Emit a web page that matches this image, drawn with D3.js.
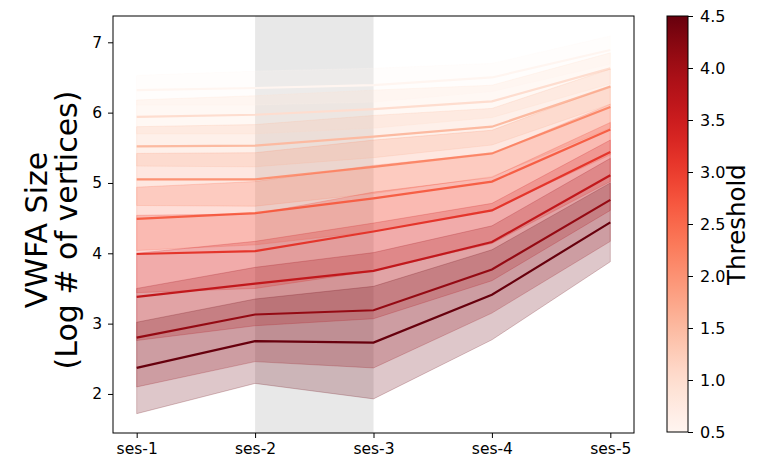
<!DOCTYPE html>
<html><head><meta charset="utf-8">
<script src="https://cdn.jsdelivr.net/npm/d3@7"></script>
<style>
body{margin:0;background:#fff;}
svg{display:block;font-family:"DejaVu Sans",sans-serif;}
</style></head>
<body><svg id="c" width="758" height="462"></svg>
<script>
const sessions = ["ses-1","ses-2","ses-3","ses-4","ses-5"];
const thresholds = [0.5,1.0,1.5,2.0,2.5,3.0,3.5,4.0,4.5];
const means = [
  [6.32,6.35,6.39,6.50,6.89],
  [5.94,5.97,6.05,6.16,6.63],
  [5.52,5.53,5.66,5.80,6.37],
  [5.05,5.05,5.23,5.42,6.08],
  [4.49,4.57,4.78,5.02,5.76],
  [3.99,4.03,4.31,4.61,5.44],
  [3.38,3.57,3.75,4.16,5.11],
  [2.80,3.13,3.19,3.77,4.76],
  [2.37,2.75,2.73,3.41,4.44]
];
const errs = [
  [0.21,0.24,0.24,0.20,0.20],
  [0.24,0.27,0.27,0.23,0.22],
  [0.28,0.30,0.30,0.26,0.25],
  [0.37,0.38,0.38,0.33,0.30],
  [0.45,0.45,0.47,0.40,0.36],
  [0.55,0.53,0.56,0.47,0.42],
  [0.62,0.60,0.68,0.55,0.50],
  [0.70,0.67,0.82,0.62,0.59],
  [0.65,0.60,0.80,0.64,0.56]
];
const yTicks = [2,3,4,5,6,7];
const cbTicks = [0.5,1.0,1.5,2.0,2.5,3.0,3.5,4.0,4.5];
const shadeSessions = ["ses-2","ses-3"];

const svg = d3.select("#c");
const L=113, R=634, T=16, B=433;
const x = d3.scaleLinear().domain([-0.2,4.2]).range([L,R]);
const y = d3.scaleLinear().domain([1.445,7.374]).range([B,T]);
const col = d3.scaleSequential(d3.interpolateReds).domain([0.5,4.5]);

// shaded sessions
svg.append("rect")
  .attr("x", x(sessions.indexOf(shadeSessions[0])))
  .attr("width", x(sessions.indexOf(shadeSessions[1])) - x(sessions.indexOf(shadeSessions[0])))
  .attr("y", T).attr("height", B-T).attr("fill","#e8e8e8");

const area = d3.area().x((d,i)=>x(i)).y0(d=>y(d[0]-d[1])).y1(d=>y(d[0]+d[1]));
const line = d3.line().x((d,i)=>x(i)).y(d=>y(d));

thresholds.forEach((t,k)=>{
  const c = col(t);
  const pts = means[k].map((m,i)=>[m, errs[k][i]]);
  svg.append("path").attr("d", area(pts))
    .attr("fill", c).attr("fill-opacity",0.22)
    .attr("stroke", c).attr("stroke-opacity",0.22).attr("stroke-width",1);
  svg.append("path").attr("d", line(means[k]))
    .attr("fill","none").attr("stroke", c).attr("stroke-width",2.2);
});

// frame
svg.append("rect").attr("x",L).attr("y",T).attr("width",R-L).attr("height",B-T)
  .attr("fill","none").attr("stroke","#000").attr("stroke-width",1);

// axes
const xa = svg.append("g").attr("transform",`translate(0,${B})`)
  .call(d3.axisBottom(x).tickValues(d3.range(sessions.length)).tickFormat(i=>sessions[i]).tickSize(5).tickPadding(5));
const ya = svg.append("g").attr("transform",`translate(${L},0)`)
  .call(d3.axisLeft(y).tickValues(yTicks).tickFormat(d3.format("d")).tickSize(5).tickPadding(6));
[xa,ya].forEach(g=>{
  g.select(".domain").remove();
  g.selectAll("text").attr("font-size",15.5).attr("fill","#000").attr("font-family","DejaVu Sans");
  g.selectAll("line").attr("stroke","#000");
});

// y label
const yl = svg.append("text").attr("transform","translate(47,230) rotate(-90)")
  .attr("text-anchor","middle").attr("font-size",30).attr("fill","#000");
yl.append("tspan").attr("x",0).attr("dy",0).text("VWFA Size");
yl.append("tspan").attr("x",0).attr("dy",30).text("(Log # of vertices)");

// colorbar
const CL=667, CR=688;
const defs = svg.append("defs");
const grad = defs.append("linearGradient").attr("id","cg").attr("x1",0).attr("y1",1).attr("x2",0).attr("y2",0);
d3.range(0,1.0001,0.05).forEach(s=>{
  grad.append("stop").attr("offset",s).attr("stop-color",d3.interpolateReds(s));
});
const cy = d3.scaleLinear().domain([0.5,4.5]).range([B-1,T]);
svg.append("rect").attr("x",CL).attr("y",T).attr("width",CR-CL).attr("height",B-1-T)
  .attr("fill","url(#cg)").attr("stroke","#000").attr("stroke-width",1);
const ca = svg.append("g").attr("transform",`translate(${CR},0)`)
  .call(d3.axisRight(cy).tickValues(cbTicks).tickFormat(d3.format(".1f")).tickSize(5).tickPadding(7));
ca.select(".domain").remove();
ca.selectAll("text").attr("font-size",16).attr("fill","#000").attr("font-family","DejaVu Sans");
ca.selectAll("line").attr("stroke","#000");
svg.append("text").attr("transform",`translate(745,${(T+B)/2}) rotate(-90)`)
  .attr("text-anchor","middle").attr("font-size",24.5).attr("fill","#000").text("Threshold");
</script></body></html>
